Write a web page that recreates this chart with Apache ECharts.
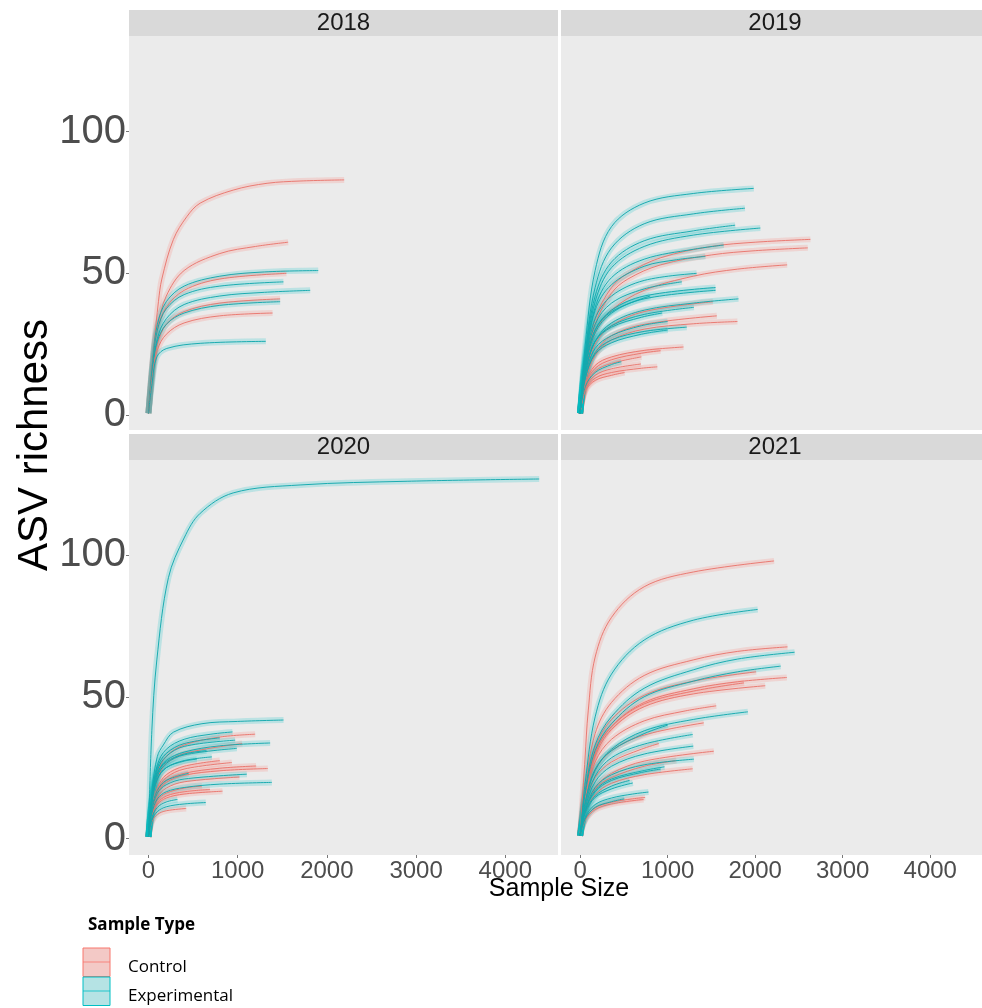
<!DOCTYPE html>
<html>
<head>
<meta charset="utf-8">
<script src="https://cdn.jsdelivr.net/npm/echarts@6/dist/echarts.min.js"></script>
<style>html,body{margin:0;padding:0;background:#fff}#c{width:982px;height:1008px}</style>
</head>
<body>
<div id="c"></div>
<script>
// ---- data ----
const panels = ['2018', '2019', '2020', '2021'];
const sampleTypes = ['Control', 'Experimental'];
const xTicks = [0, 1000, 2000, 3000, 4000];
const yTicks = [0, 50, 100];
const xTitle = 'Sample Size';
const yTitle = 'ASV richness';
const legendTitle = 'Sample Type';

const curves2018 = [
  ['Control', [[0,0.6],[64,25],[112,40],[150,48],[280,62],[430,70],[580,74.8],[950,79.4],[1330,81.8],[1700,82.6],[2194,83]]],
  ['Control', [[0,0.6],[50,20],[100,31],[200,42],[400,51],[800,57],[1200,59.5],[1566,61]]],
  ['Experimental', [[0,0.6],[50,20],[100,32],[200,40],[400,45.5],[800,49],[1300,50.5],[1903,51]]],
  ['Control', [[0,0.6],[50,19],[100,30],[200,38],[400,44],[800,48],[1546,50]]],
  ['Experimental', [[0,0.6],[50,19],[100,30],[200,37.5],[400,42.5],[800,45.5],[1513,47]]],
  ['Experimental', [[0,0.6],[50,17],[100,27],[200,34],[400,39],[800,42],[1300,43.3],[1813,44]]],
  ['Control', [[0,0.6],[50,16],[100,25],[200,32],[400,36.5],[800,39.5],[1476,41]]],
  ['Experimental', [[0,0.6],[50,17],[100,26],[200,32],[400,36],[800,38.7],[1476,40]]],
  ['Control', [[0,0.6],[50,15],[100,23],[200,28.5],[400,32.5],[800,35],[1391,36]]],
  ['Experimental', [[0,0.6],[40,11],[94,20.5],[206,23.5],[580,25.3],[1316,26]]]
];

const curves2019 = [
  ['Control', [[0,0.6],[60,17],[172,34],[359,45],[546,50],[919,55.5],[1500,59.5],[2000,61],[2631,62]]],
  ['Control', [[0,0.6],[60,16],[172,32],[359,43],[546,48],[919,53],[1500,56.5],[2000,58],[2601,59]]],
  ['Control', [[0,0.6],[60,15],[172,29],[359,37],[732,44],[1293,49],[1800,51.5],[2365,53]]],
  ['Control', [[0,0.6],[60,14],[172,25],[359,31.5],[732,36.5],[1517,40]]],
  ['Control', [[0,0.6],[60,13],[172,22],[359,28],[732,32],[1562,35]]],
  ['Control', [[0,0.6],[60,12],[172,21],[359,26.5],[732,30.3],[1293,32.2],[1797,33]]],
  ['Control', [[0,0.6],[60,11],[172,17.5],[359,20.5],[732,22.8],[1181,24]]],
  ['Control', [[0,0.6],[60,10.5],[172,16.5],[359,19.5],[700,21.8],[919,22.7]]],
  ['Control', [[0,0.6],[60,10],[172,15.5],[359,18.2],[700,20.5]]],
  ['Control', [[0,0.6],[60,9.5],[172,14],[359,16.3],[695,18]]],
  ['Control', [[0,0.6],[60,9],[172,13],[359,15],[700,16.5],[882,17]]],
  ['Control', [[0,0.6],[60,8.5],[172,12.2],[359,14],[508,15]]],
  ['Experimental', [[0,0.6],[60,25],[172,51],[359,66.5],[732,74.8],[1293,78.2],[1984,80]]],
  ['Experimental', [[0,0.6],[60,22],[172,45],[359,59],[732,67.5],[1293,71],[1883,73]]],
  ['Experimental', [[0,0.6],[60,21],[172,42],[359,54],[732,61.5],[1293,65],[1771,67]]],
  ['Experimental', [[0,0.6],[60,20],[172,40],[359,52],[732,59.5],[1293,63.5],[2059,66]]],
  ['Experimental', [[0,0.6],[60,19],[172,38],[359,48.5],[732,55],[1293,58.5],[1640,60]]],
  ['Experimental', [[0,0.6],[60,19],[172,37],[359,46],[732,52.5],[1100,54.8],[1431,56]]],
  ['Experimental', [[0,0.6],[60,18],[172,34],[359,42],[732,47.5],[1331,50]]],
  ['Experimental', [[0,0.6],[60,18],[172,32],[359,39.5],[732,44.5],[1162,47]]],
  ['Experimental', [[0,0.6],[60,17],[172,30],[359,37],[732,42],[1547,45]]],
  ['Experimental', [[0,0.6],[60,16],[172,29],[359,36],[732,41],[1547,44]]],
  ['Experimental', [[0,0.6],[60,17],[172,30],[359,36.5],[800,42]]],
  ['Experimental', [[0,0.6],[60,15],[172,26],[359,32.5],[732,37],[1293,39.5],[1809,41]]],
  ['Experimental', [[0,0.6],[60,15],[172,26],[359,31.5],[732,35.5],[1300,38]]],
  ['Experimental', [[0,0.6],[60,15],[172,26],[359,31],[700,34.5],[938,36]]],
  ['Experimental', [[0,0.6],[60,14],[172,23.5],[359,28],[700,31.5],[1000,33]]],
  ['Experimental', [[0,0.6],[60,13],[172,22],[359,26.5],[732,29.5],[1218,31]]],
  ['Experimental', [[0,0.6],[60,13],[172,21.5],[359,25.5],[700,28.5],[1001,30]]],
  ['Experimental', [[0,0.6],[60,10],[172,15],[359,17.8],[471,18.8]]]
];

const curves2020 = [
  ['Control', [[0,0.6],[40,13],[100,23],[200,29],[400,33],[800,35.8],[1196,36.8]]],
  ['Control', [[0,0.6],[40,12],[100,21],[200,26.5],[400,30],[1050,33.5]]],
  ['Control', [[0,0.6],[40,11],[100,18],[200,22.5],[400,25.5],[800,27.5]]],
  ['Control', [[0,0.6],[40,10],[100,17],[200,21.5],[400,24.5],[935,26.8]]],
  ['Control', [[0,0.6],[40,10],[100,16.5],[200,20.5],[400,23],[800,24.8],[1207,25.6]]],
  ['Control', [[0,0.6],[40,9.5],[100,16],[200,19.8],[400,22.3],[800,23.9],[1338,24.7]]],
  ['Control', [[0,0.6],[40,9],[100,14.5],[200,17.8],[400,20],[1020,21.7]]],
  ['Control', [[0,0.6],[40,9],[100,13.5],[200,16],[400,17.8],[600,18.5]]],
  ['Control', [[0,0.6],[40,8.5],[100,12.5],[200,15],[400,16.5],[690,17.3]]],
  ['Control', [[0,0.6],[40,8],[100,12],[200,14.3],[400,15.7],[830,16.7]]],
  ['Control', [[0,0.6],[40,6],[100,8.5],[200,9.8],[423,10.6]]],
  ['Experimental', [[0,0.6],[38,38],[94,63],[224,92],[400,106],[580,114.7],[950,121.9],[1700,124.7],[2900,126],[4380,126.8]]],
  ['Experimental', [[0,0.6],[40,17],[100,29],[167,33],[279,37.5],[600,40.5],[1000,41.3],[1514,41.8]]],
  ['Experimental', [[0,0.6],[40,15],[100,26],[200,31.5],[400,35],[700,36.8],[942,37.6]]],
  ['Experimental', [[0,0.6],[40,15],[100,25],[200,30],[400,33.5],[800,35.5]]],
  ['Experimental', [[0,0.6],[40,14],[100,24],[200,29],[400,32.5],[972,34.7]]],
  ['Experimental', [[0,0.6],[40,14],[100,23],[200,27.5],[400,30.5],[800,32.7],[1364,33.7]]],
  ['Experimental', [[0,0.6],[40,13],[100,22],[200,26.5],[400,29.5],[991,31.8]]],
  ['Experimental', [[0,0.6],[40,14],[100,23],[200,27],[400,29.8],[650,31]]],
  ['Experimental', [[0,0.6],[40,13],[100,21],[200,25],[400,27.5],[711,28.8]]],
  ['Experimental', [[0,0.6],[40,13],[100,21],[200,25],[400,27.3],[542,28]]],
  ['Experimental', [[0,0.6],[40,11],[100,17],[200,20.5],[450,23]]],
  ['Experimental', [[0,0.6],[40,10],[100,16],[200,19],[400,21],[1103,22.7]]],
  ['Experimental', [[0,0.6],[40,9],[100,14],[200,16.5],[400,18],[800,19.2],[1383,19.8]]],
  ['Experimental', [[0,0.6],[40,7.5],[100,11],[200,12.9],[325,13.8]]],
  ['Experimental', [[0,0.6],[40,6.5],[100,9.5],[200,11.2],[400,12.2],[643,12.7]]]
];

const curves2021 = [
  ['Control', [[0,1.2],[56,28],[93,45],[172,64],[359,78],[732,88.8],[1293,94],[2216,97.9]]],
  ['Control', [[0,1],[60,18],[172,37],[359,48],[732,57.5],[1293,63],[1800,66],[2369,67.6]]],
  ['Control', [[0,1],[60,16],[172,32],[359,42],[732,50.5],[1293,55.5],[2011,58.8]]],
  ['Control', [[0,1],[60,15],[172,30],[359,39.5],[732,48],[1293,52.8],[1800,55.3],[2362,56.8]]],
  ['Control', [[0,1],[60,15],[172,30],[359,39.5],[732,47.5],[1293,52],[1872,54.9]]],
  ['Control', [[0,1],[60,15],[172,29],[359,38.5],[732,46.5],[1293,51],[2115,53.9]]],
  ['Control', [[0,1],[60,14],[172,27],[359,35],[732,41.5],[1200,45],[1555,46.8]]],
  ['Control', [[0,1],[60,13],[172,24],[359,31],[732,36.5],[1413,40.8]]],
  ['Control', [[0,1],[60,12],[172,21.5],[359,27],[700,31.5],[900,33.5]]],
  ['Control', [[0,1],[60,10],[172,18],[359,23],[732,27.3],[1528,30.8]]],
  ['Control', [[0,1],[60,10],[172,17.5],[359,21.5],[732,25.5],[1100,27.5]]],
  ['Control', [[0,1],[60,9],[172,15.5],[359,19.5],[732,22.5],[1286,24.6]]],
  ['Control', [[0,1],[60,7],[172,10.8],[359,12.8],[600,14],[743,14.5]]],
  ['Control', [[0,1],[60,6.5],[172,10.2],[359,12.2],[725,13.8]]],
  ['Experimental', [[0,1],[60,20],[172,42.9],[359,58],[732,70],[1293,77],[2029,80.8]]],
  ['Experimental', [[0,1],[60,17],[172,33],[359,43],[732,53],[1293,59.5],[1800,63.3],[2451,65.7]]],
  ['Experimental', [[0,1],[60,16],[172,31],[359,40.5],[732,50],[1293,55.5],[1800,58.8],[2291,60.8]]],
  ['Experimental', [[0,1],[60,13],[172,24],[359,31.5],[732,38],[1293,42],[1917,44.7]]],
  ['Experimental', [[0,1],[60,13],[172,24.5],[359,31],[732,37],[1000,40]]],
  ['Experimental', [[0,1],[60,12],[172,22],[359,28.5],[732,33.3],[1286,36.7]]],
  ['Experimental', [[0,1],[60,11],[172,20],[359,25.5],[732,29.8],[1293,32.6]]],
  ['Experimental', [[0,1],[60,10],[172,18],[359,22.5],[732,26],[1300,28]]],
  ['Experimental', [[0,1],[60,10],[172,17],[359,21],[732,24],[964,25.3]]],
  ['Experimental', [[0,1],[60,10],[172,16.5],[359,20.5],[700,23.3],[920,24.5]]],
  ['Experimental', [[0,1],[60,9.5],[172,15],[359,18.5],[565,20.5]]],
  ['Experimental', [[0,1],[60,9],[172,14.5],[359,17.5],[602,19.6]]],
  ['Experimental', [[0,1],[60,7.5],[172,12],[359,14.3],[600,15.7],[781,16.4]]],
  ['Experimental', [[0,1],[60,7],[172,11],[359,13],[505,14]]]
];
const panelCurves = [curves2018, curves2019, curves2020, curves2021];

// ---- styling / layout ----
const colors = { Control: '#F8766D', Experimental: '#00BFC4' };
const lineColors = { Control: '#e9766e', Experimental: '#13a9ae' };
const FONT = 'Liberation Sans, Arial, sans-serif';
const gridRects = [
  { left: 129, top: 36, width: 429, height: 394 },
  { left: 561, top: 36, width: 429, height: 394 },
  { left: 129, top: 460, width: 429, height: 395 },
  { left: 561, top: 460, width: 429, height: 395 }
];
const yRanges = [[-5.3, 133.8], [-5.3, 133.8], [-5.8, 133.5], [-5.8, 133.5]];

const grid = gridRects.map(r => Object.assign({ show: true, backgroundColor: '#ebebeb', borderWidth: 0, containLabel: false }, r));

const xAxis = gridRects.map((r, i) => ({
  type: 'value', gridIndex: i, min: -218, max: 4591,
  axisLine: { show: false, onZero: false }, splitLine: { show: false },
  axisTick: { show: i >= 2, length: 3, lineStyle: { color: '#777' }, customValues: xTicks },
  axisLabel: { show: i >= 2, customValues: xTicks, formatter: v => String(v), fontSize: 24, color: '#4d4d4d', fontFamily: FONT, margin: 4 }
}));
const yAxis = gridRects.map((r, i) => ({
  type: 'value', gridIndex: i, min: yRanges[i][0], max: yRanges[i][1],
  axisLine: { show: false, onZero: false }, splitLine: { show: false },
  axisTick: { show: i % 2 === 0, length: 3, lineStyle: { color: '#777' }, customValues: yTicks },
  axisLabel: { show: i % 2 === 0, customValues: yTicks, formatter: v => String(v), fontSize: 40, color: '#4d4d4d', fontFamily: FONT, margin: 3 }
}));

const series = [];
panelCurves.forEach((curves, gi) => {
  curves.forEach(([type, pts]) => {
    series.push({
      type: 'line', xAxisIndex: gi, yAxisIndex: gi, data: pts, z: 1,
      smooth: 0.35, showSymbol: false, symbol: 'none', silent: true,
      lineStyle: { color: colors[type], width: 6, opacity: 0.2, cap: 'butt' }
    });
  });
  curves.forEach(([type, pts]) => {
    series.push({
      type: 'line', xAxisIndex: gi, yAxisIndex: gi, data: pts, z: 2,
      smooth: 0.35, showSymbol: false, symbol: 'none', silent: true,
      lineStyle: { color: lineColors[type], width: 1, opacity: 0.95 }
    });
  });
});

const graphic = [];
gridRects.forEach((r, i) => {
  graphic.push({ type: 'rect', shape: { x: r.left, y: r.top - 26, width: r.width, height: 26 }, style: { fill: '#d9d9d9' }, silent: true });
  graphic.push({ type: 'text', x: r.left + (i % 2 === 1 ? 214 : r.width / 2), y: r.top - 13,
    style: { text: panels[i], font: '24px ' + FONT, fill: '#1a1a1a', align: 'center', verticalAlign: 'middle' }, silent: true });
});
graphic.push({ type: 'text', x: 559, y: 889, style: { text: xTitle, font: '25px ' + FONT, fill: '#000', align: 'center', verticalAlign: 'middle' } });
graphic.push({ type: 'text', x: 35, y: 445, rotation: Math.PI / 2, style: { text: yTitle, font: '42px ' + FONT, fill: '#000', align: 'center', verticalAlign: 'middle' } });
// legend
graphic.push({ type: 'text', x: 88, y: 925, style: { text: legendTitle, font: 'bold 17px "Open Sans", sans-serif', fill: '#000', align: 'left', verticalAlign: 'middle' } });
const keyFill = { Control: '#f3c9c6', Experimental: '#b5e3e4' };
sampleTypes.forEach((t, k) => {
  const y0 = 948 + k * 29;
  graphic.push({ type: 'rect', shape: { x: 83, y: y0, width: 27, height: 28.5 }, style: { fill: keyFill[t], stroke: colors[t], lineWidth: 1 } });
  graphic.push({ type: 'line', shape: { x1: 83, y1: y0 + 14, x2: 110, y2: y0 + 14 }, style: { stroke: colors[t], lineWidth: 1, opacity: 0.8 } });
  graphic.push({ type: 'text', x: 128, y: y0 + 19, style: { text: t, font: '17px "Open Sans", sans-serif', fill: '#000', align: 'left', verticalAlign: 'middle' } });
});

const chart = echarts.init(document.getElementById('c'), null, { renderer: 'canvas' });
chart.setOption({ animation: false, backgroundColor: '#fff', grid, xAxis, yAxis, series, graphic });
</script>
</body>
</html>
